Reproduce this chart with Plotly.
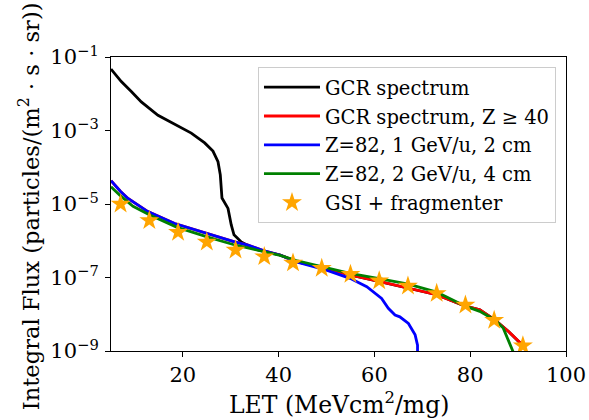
import plotly.graph_objects as go

# GCR spectrum
gcr_x = [5, 7.15, 9.24, 11.33, 14.81, 18.3, 21.76, 24.56, 26.29, 27.34, 27.82, 28.17, 29.43,
         30.11, 30.68, 32.2, 33.6, 35.7, 40.3,
         43.7, 49, 54.9, 61, 67.1, 73, 79, 82, 85.2, 88, 90.4, 91]
gcr_y = [4.7e-2, 2.14e-2, 1.15e-2, 6.0e-3, 2.6e-3, 1.48e-3, 8.5e-4, 4.6e-4, 2.75e-4, 1.41e-4,
         6.2e-5, 1.45e-5, 7.6e-6, 2.7e-6, 1.45e-6, 9.3e-7, 7.4e-7, 5.6e-7, 4.1e-7,
         2.7e-7, 1.9e-7, 1.17e-7, 7.9e-8, 5.1e-8, 3.4e-8, 1.66e-8, 1.32e-8, 6.9e-9, 3.4e-9, 1.7e-9, 1.4e-9]

# GCR spectrum, Z >= 40
z40_x = [5, 7, 8.55, 12.7, 18.3, 23.85, 30.8, 33.6, 36.8, 40.3, 43.7, 49, 54.9, 61, 67.1, 73, 79, 82,
         85.2, 88, 90.4, 91]
z40_y = [4.3e-5, 2.2e-5, 1.41e-5, 6.2e-6, 2.95e-6, 1.78e-6, 9.3e-7, 7.6e-7, 5.4e-7, 4.1e-7, 2.7e-7,
         1.9e-7, 1.17e-7, 7.9e-8, 5.1e-8, 3.4e-8, 1.66e-8, 1.32e-8, 6.9e-9, 3.4e-9, 1.7e-9, 1.4e-9]

# Z=82, 1 GeV/u, 2 cm
b1_x = [5, 7, 8.55, 12.7, 18.3, 23.85, 30.8, 33.6, 36.8, 40.3, 43.7, 50, 54.9, 58.4, 61.5, 62.9, 64.3,
        65.3, 67.1, 68.5, 69.0, 69.0]
b1_y = [4.3e-5, 2.2e-5, 1.41e-5, 6.2e-6, 2.95e-6, 1.78e-6, 9.3e-7, 7.6e-7, 5.4e-7, 4.1e-7, 2.65e-7,
        1.58e-7, 9.5e-8, 5.6e-8, 2.7e-8, 1.45e-8, 9.5e-9, 8.5e-9, 5.6e-9, 2.75e-9, 1.45e-9, 6e-10]

# Z=82, 2 GeV/u, 4 cm
b2_x = [5, 7, 9.6, 13.1, 18.7, 24.9, 30.5, 36.8, 40.3, 43.7, 49, 54.9, 61, 67.1, 73, 79, 82,
        85.2, 86.9, 87.9, 88.9, 89.2]
b2_y = [2.95e-5, 1.66e-5, 8.7e-6, 5.0e-6, 2.35e-6, 1.29e-6, 7.9e-7, 5.1e-7, 4.0e-7, 2.9e-7,
        2.0e-7, 1.29e-7, 9.3e-8, 6.6e-8, 4.0e-8, 1.66e-8, 1.2e-8, 6.9e-9, 4.2e-9, 2.0e-9,
        1.07e-9, 8e-10]

# GSI + fragmenter
gsi_x = [7, 13, 19, 25, 31, 37, 43, 49, 55, 61, 67, 73, 79, 85, 91]
gsi_y = [1.0e-5, 3.55e-6, 1.7e-6, 9.3e-7, 5.6e-7, 3.7e-7, 2.5e-7, 1.78e-7, 1.23e-7, 8.1e-8,
         5.9e-8, 3.7e-8, 1.78e-8, 6.9e-9, 1.38e-9]

ytick_vals = [1e-9, 1e-7, 1e-5, 1e-3, 1e-1]
ytick_text = ["10<sup>−9</sup>", "10<sup>−7</sup>", "10<sup>−5</sup>", "10<sup>−3</sup>", "10<sup>−1</sup>"]
xtick_vals = [20, 40, 60, 80, 100]

FONT = "DejaVu Serif"
LW = 2.8

traces = [
    (gcr_x, gcr_y, "GCR spectrum", "black"),
    (z40_x, z40_y, "GCR spectrum, Z ≥ 40", "red"),
    (b1_x, b1_y, "Z=82, 1 GeV/u, 2 cm", "blue"),
    (b2_x, b2_y, "Z=82, 2 GeV/u, 4 cm", "green"),
]

fig = go.Figure()
for i, (xs, ys, nm, col) in enumerate(traces):
    fig.add_trace(go.Scatter(x=xs, y=ys, mode="lines", name=nm, legendgroup=f"g{i}",
                             line=dict(color=col, width=LW)))
fig.add_trace(go.Scatter(x=gsi_x, y=gsi_y, mode="markers", name="GSI + fragmenter",
                         legendgroup="g4",
                         marker=dict(symbol="star", color="orange", size=15,
                                     line=dict(width=0))))

fig.update_layout(
    width=589, height=420,
    margin=dict(l=111, r=23, t=57, b=69),
    paper_bgcolor="white", plot_bgcolor="white",
    font=dict(family=FONT, size=21, color="black"),
    showlegend=True,
    legend=dict(x=0.978, y=0.966, xanchor="right", yanchor="top",
                bgcolor="rgba(255,255,255,0.8)", bordercolor="#cccccc", borderwidth=1,
                font=dict(family=FONT, size=19.5), tracegroupgap=0.5, itemwidth=56),
    xaxis=dict(range=[5, 100], tickvals=xtick_vals, ticks="outside", ticklen=5, tickwidth=1.1,
               tickcolor="black", showline=True, linecolor="black", linewidth=1.1, mirror=True,
               showgrid=False, zeroline=False, automargin=False,
               tickfont=dict(size=21)),
    yaxis=dict(type="log", range=[-9, -1], tickvals=ytick_vals, ticktext=ytick_text,
               ticks="outside", ticklen=5, tickwidth=1.1, tickcolor="black",
               showline=True, linecolor="black", linewidth=1.1, mirror=True,
               showgrid=False, zeroline=False, automargin=False, ticklabelstandoff=2,
               tickfont=dict(size=21)),
    annotations=[
        dict(text="LET (MeVcm<sup>2</sup>/mg)", xref="paper", yref="paper",
             x=0.5, y=-0.177, xanchor="center", yanchor="middle", showarrow=False,
             font=dict(family=FONT, size=23.5)),
        dict(text="Integral Flux (particles/(m<sup>2</sup> · s · sr))", xref="paper", yref="paper",
             x=-0.182, y=0.493, xanchor="center", yanchor="middle", textangle=-90, showarrow=False,
             font=dict(family=FONT, size=22.6)),
    ],
)

fig.write_html("out.html", config={"displayModeBar": False},
               post_script="document.body.style.margin='0';document.body.style.padding='0';")
